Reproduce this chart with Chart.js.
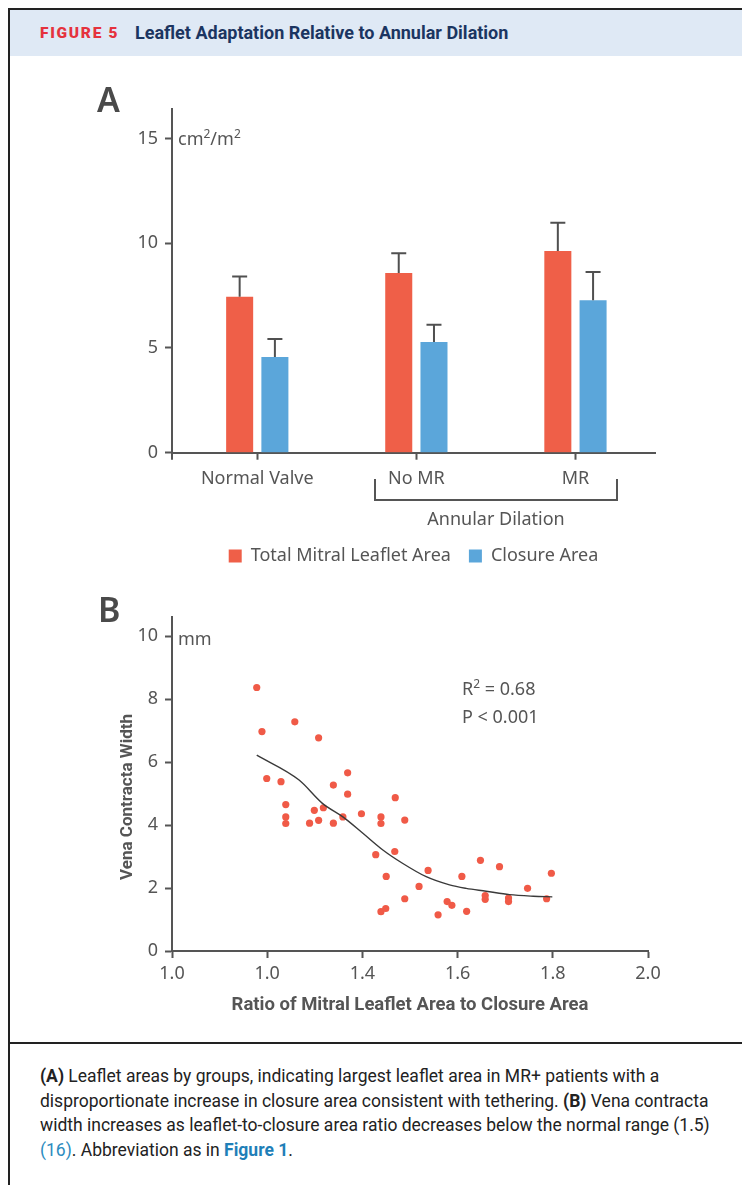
<!DOCTYPE html>
<html>
<head>
<meta charset="utf-8">
<script src="https://cdn.jsdelivr.net/npm/chart.js@4.4.1/dist/chart.umd.min.js"></script>
<style>
  html,body{margin:0;padding:0;background:#fff;}
  body{width:742px;height:1185px;position:relative;overflow:hidden;font-family:"Noto Sans",sans-serif;color:#555;}
  .abs{position:absolute;white-space:nowrap;}
  #borderL{position:absolute;left:8px;top:8px;width:2px;height:1177px;background:#222;}
  #borderT{position:absolute;left:8px;top:8px;width:734px;height:2px;background:#222;}
  #header{position:absolute;left:10px;top:10px;width:732px;height:46px;background:#dfe9f5;}
  #fig{left:40px;top:22px;font-family:Roboto,sans-serif;font-weight:900;font-size:15.5px;letter-spacing:1.7px;color:#e5323d;line-height:22px;}
  #ttl{left:135px;top:22px;font-family:Roboto,sans-serif;font-weight:700;font-size:18px;color:#1b3561;line-height:22px;}
  .panel{font-family:"Noto Sans",sans-serif;font-weight:600;font-size:34px;color:#4a4a4a;line-height:34px;}
  .unit{font-size:18px;color:#555;line-height:22px;}
  .unit sup{font-size:12px;vertical-align:0;position:relative;top:-7px;}
  #bracket{position:absolute;left:374px;top:479px;width:244px;height:22px;box-sizing:border-box;border:2px solid #555;border-top:none;}
  #annular{left:396px;top:507px;width:200px;text-align:center;font-size:18px;line-height:22px;color:#555;}
  #sep{position:absolute;left:8px;top:1042px;width:734px;height:2px;background:#222;}
  #cap{left:40px;top:1064px;font-family:Roboto,sans-serif;font-size:17.5px;line-height:24.5px;color:#222;}
  #cap b{font-weight:700;}
  .blue{color:#2c8cc0;}
  .blueb{color:#1f7fb8;font-weight:700;}
  canvas{position:absolute;left:0;}
</style>
</head>
<body>
<div id="header"></div>
<div id="borderL"></div>
<div id="borderT"></div>
<div class="abs" id="fig">FIGURE 5</div>
<div class="abs" id="ttl">Leaflet Adaptation Relative to Annular Dilation</div>

<canvas id="cA" width="742" height="500" style="top:80px"></canvas>
<canvas id="cB" width="742" height="460" style="top:580px"></canvas>

<div class="abs panel" style="left:97px;top:82px;">A</div>
<div class="abs unit" style="left:178px;top:127px;">cm<sup>2</sup>/m<sup>2</sup></div>
<div id="bracket"></div>
<div class="abs" id="annular">Annular Dilation</div>

<div class="abs panel" style="left:98px;top:592px;">B</div>
<div class="abs unit" style="left:178px;top:627px;">mm</div>
<div class="abs unit" style="left:462px;top:677px;">R<sup>2</sup> = 0.68</div>
<div class="abs unit" style="left:462px;top:705px;">P &lt; 0.001</div>

<div id="sep"></div>
<div class="abs" id="cap"><b>(A)</b> Leaflet areas by groups, indicating largest leaflet area in MR+ patients with a<br>disproportionate increase in closure area consistent with tethering. <b>(B)</b> Vena contracta<br>width increases as leaflet-to-closure area ratio decreases below the normal range (1.5)<br><span class="blue">(16)</span>. Abbreviation as in <span class="blueb">Figure 1</span>.</div>

<script>
// ---------- Panel A data ----------
const categories = ['Normal Valve', 'No MR', 'MR'];
const totalArea = [7.44, 8.58, 9.63];
const totalErr = [0.97, 0.94, 1.35];
const closureArea = [4.57, 5.28, 7.28];
const closureErr = [0.86, 0.83, 1.35];
const yTicksA = [0, 5, 10, 15];

// ---------- Panel B data ----------
const ratioX = [1.178, 1.189, 1.199, 1.229, 1.239, 1.239, 1.239, 1.258, 1.308, 1.289, 1.299, 1.308, 1.318, 1.339, 1.339, 1.359, 1.369, 1.369, 1.398, 1.428, 1.439, 1.439, 1.439, 1.449, 1.450, 1.468, 1.469, 1.489, 1.489, 1.519, 1.538, 1.559, 1.578, 1.588, 1.609, 1.619, 1.648, 1.658, 1.658, 1.688, 1.707, 1.707, 1.747, 1.787, 1.797];
const widthY = [8.37, 6.97, 5.48, 5.38, 4.65, 4.26, 4.05, 7.28, 6.77, 4.06, 4.47, 4.15, 4.55, 5.27, 4.06, 4.26, 5.66, 4.98, 4.36, 3.06, 4.26, 4.05, 1.25, 1.35, 2.37, 3.16, 4.87, 4.16, 1.66, 2.05, 2.56, 1.15, 1.57, 1.45, 2.37, 1.26, 2.88, 1.76, 1.64, 2.68, 1.68, 1.57, 1.99, 1.66, 2.47];
const fitX = [1.178, 1.267, 1.316, 1.359, 1.401, 1.443, 1.485, 1.534, 1.583, 1.618, 1.660, 1.709, 1.759, 1.799];
const fitY = [6.22, 5.43, 4.69, 4.26, 3.74, 3.21, 2.78, 2.36, 2.10, 1.99, 1.90, 1.79, 1.74, 1.72];
const xTickValsB = [1.0, 1.2, 1.4, 1.6, 1.8, 2.0];
const xTickLabelsB = ['1.0', '1.0', '1.4', '1.6', '1.8', '2.0'];
const yTicksB = [0, 2, 4, 6, 8, 10];

Chart.defaults.font.family = '"Noto Sans", sans-serif';
Chart.defaults.color = '#555';

const AX = '#555';
const gridOpts = {drawOnChartArea: false, drawTicks: true, tickLength: 7, tickWidth: 2, tickColor: AX, offset: false};
const borderOpts = {display: true, color: AX, width: 2};

const errorBars = {
  id: 'errorBars',
  afterDatasetsDraw(chart) {
    const ctx = chart.ctx, y = chart.scales.y;
    chart.data.datasets.forEach((ds, di) => {
      const meta = chart.getDatasetMeta(di);
      meta.data.forEach((bar, i) => {
        const top = y.getPixelForValue(ds.data[i].y + ds.errors[i]);
        ctx.save();
        ctx.strokeStyle = '#505050';
        ctx.lineWidth = 2;
        ctx.beginPath();
        ctx.moveTo(bar.x, bar.y);
        ctx.lineTo(bar.x, top);
        ctx.moveTo(bar.x - 7.5, top);
        ctx.lineTo(bar.x + 7.5, top);
        ctx.stroke();
        ctx.restore();
      });
    });
  }
};

const axisExt = {
  id: 'axisExt',
  afterDraw(chart) {
    const ctx = chart.ctx, a = chart.chartArea;
    ctx.save();
    ctx.strokeStyle = AX;
    ctx.lineWidth = 2;
    ctx.beginPath();
    ctx.moveTo(a.left, a.bottom);
    ctx.lineTo(a.left, a.bottom + 7);
    ctx.stroke();
    ctx.restore();
  }
};

new Chart(document.getElementById('cA'), {
  type: 'bar',
  data: {
    datasets: [
      {label: 'Total Mitral Leaflet Area', data: totalArea.map((v, i) => ({x: i, y: v})), errors: totalErr,
       backgroundColor: '#ef5f48', borderWidth: 0, categoryPercentage: 0.443, barPercentage: 0.767},
      {label: 'Closure Area', data: closureArea.map((v, i) => ({x: i, y: v})), errors: closureErr,
       backgroundColor: '#5ba6da', borderWidth: 0, categoryPercentage: 0.443, barPercentage: 0.767}
    ]
  },
  options: {
    responsive: false,
    animation: false,
    layout: {padding: {top: 29, left: 0, right: 87, bottom: 5}},
    plugins: {
      legend: {position: 'bottom', fullSize: false,
        labels: {boxWidth: 13, boxHeight: 13, padding: 18, font: {size: 18}, color: '#555'}},
      tooltip: {enabled: false}
    },
    scales: {
      x: {
        type: 'linear', min: -0.536, max: 2.5, offset: false,
        afterBuildTicks: s => { s.ticks = categories.map((c, i) => ({value: i})); },
        ticks: {callback: v => categories[v], font: {size: 18}, padding: 8, color: '#555', maxRotation: 0, autoSkip: false},
        grid: gridOpts, border: borderOpts,
        afterFit: s => { s.height = 76.3; }
      },
      y: {
        min: 0, max: 16.41,
        afterBuildTicks: s => { s.ticks = yTicksA.map(v => ({value: v})); },
        ticks: {font: {size: 18}, padding: 7, color: '#555'},
        grid: gridOpts, border: borderOpts,
        afterFit: s => { s.width = 172; }
      }
    }
  },
  plugins: [errorBars, axisExt]
});

const yTitleB = {
  id: 'yTitleB',
  afterDraw(chart) {
    const ctx = chart.ctx;
    ctx.save();
    ctx.translate(128, 217);
    ctx.rotate(-Math.PI / 2);
    ctx.font = '700 17px Roboto, sans-serif';
    ctx.fillStyle = '#555';
    ctx.textAlign = 'center';
    ctx.textBaseline = 'middle';
    ctx.fillText('Vena Contracta Width', 0, 0);
    ctx.restore();
  }
};

new Chart(document.getElementById('cB'), {
  type: 'scatter',
  data: {
    datasets: [
      {type: 'line', data: fitX.map((x, i) => ({x: x, y: fitY[i]})), borderColor: '#3a3a3a', borderWidth: 1.4,
       pointRadius: 0, cubicInterpolationMode: 'monotone', fill: false},
      {data: ratioX.map((x, i) => ({x: x, y: widthY[i]})), backgroundColor: '#f05a47', borderWidth: 0, pointRadius: 3.6}
    ]
  },
  options: {
    responsive: false,
    animation: false,
    layout: {padding: {top: 37.3, left: 0, right: 94, bottom: 0}},
    plugins: {legend: {display: false}, tooltip: {enabled: false}},
    scales: {
      x: {
        type: 'linear', min: 1.0, max: 2.0,
        afterBuildTicks: s => { s.ticks = xTickValsB.map(v => ({value: v})); },
        ticks: {callback: (v, i) => xTickLabelsB[i], font: {size: 18}, padding: 5, color: '#555', maxRotation: 0, autoSkip: false},
        grid: gridOpts, border: borderOpts,
        title: {display: true, text: 'Ratio of Mitral Leaflet Area to Closure Area', color: '#555',
          font: {family: 'Roboto, sans-serif', weight: '700', size: 18.5}, padding: {top: 0, bottom: 24}},
        afterFit: s => { s.height = 89; }
      },
      y: {
        min: 0, max: 10.6,
        afterBuildTicks: s => { s.ticks = yTicksB.map(v => ({value: v})); },
        ticks: {font: {size: 18}, padding: 7, color: '#555'},
        grid: gridOpts, border: borderOpts,
        afterFit: s => { s.width = 172; }
      }
    }
  },
  plugins: [yTitleB]
});
</script>
</body>
</html>
